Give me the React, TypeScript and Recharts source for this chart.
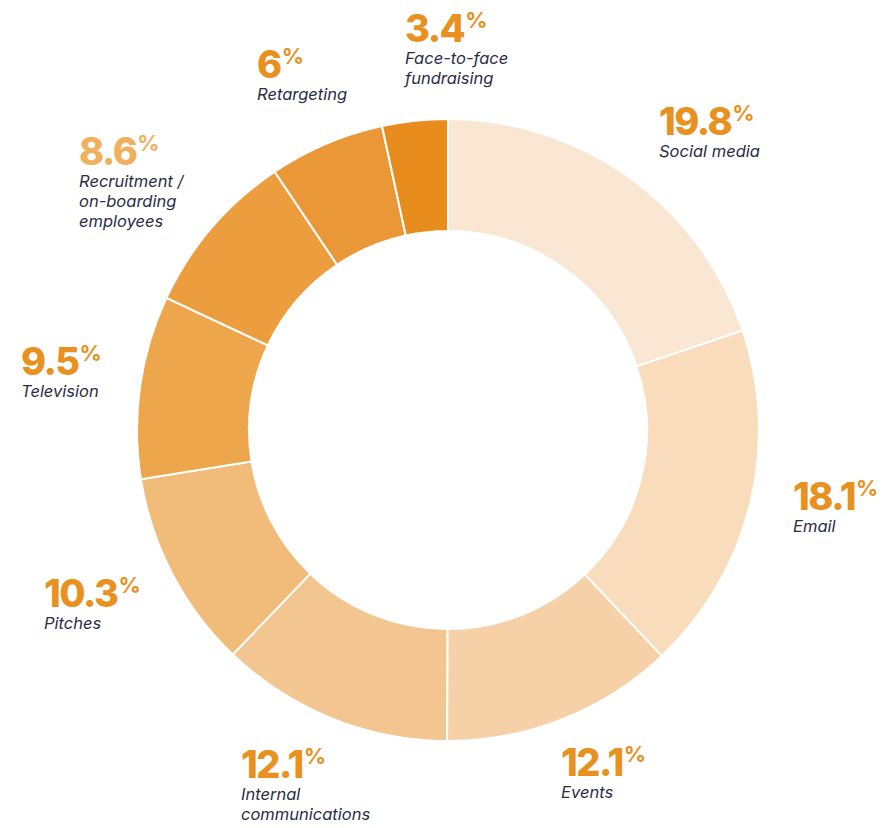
import * as React from "react";
import { PieChart, Pie, Cell } from "recharts";

// channel share, clockwise from 12 o'clock
const channels = [
  "Social media",
  "Email",
  "Events",
  "Internal communications",
  "Pitches",
  "Television",
  "Recruitment / on-boarding employees",
  "Retargeting",
  "Face-to-face fundraising",
];
const shares = [19.8, 18.1, 12.1, 12.1, 10.3, 9.5, 8.6, 6, 3.4];
const shareLabels = ["19.8", "18.1", "12.1", "12.1", "10.3", "9.5", "8.6", "6", "3.4"];
// wrapped caption lines per slice
const captionLines = [
  ["Social media"],
  ["Email"],
  ["Events"],
  ["Internal", "communications"],
  ["Pitches"],
  ["Television"],
  ["Recruitment /", "on-boarding", "employees"],
  ["Retargeting"],
  ["Face-to-face", "fundraising"],
];

const sliceColors = [
  "#FAE7D3",
  "#F8DCBB",
  "#F6D1A7",
  "#F3C590",
  "#F1BB79",
  "#EDA64B",
  "#EC9E3E",
  "#EA9837",
  "#E88C1E",
];

// where each label block sits (left x, baseline of the number)
const labelAnchor = [
  { x: 659, y: 135 },
  { x: 793, y: 510 },
  { x: 561, y: 776 },
  { x: 241, y: 778 },
  { x: 44, y: 607 },
  { x: 21, y: 375 },
  { x: 79, y: 165 },
  { x: 257, y: 78 },
  { x: 405, y: 42 },
];

const numberColor = "#E9911F";
const numberColorLight = "#F0B05E";
const captionColor = "#2A2D45";

const rows = channels.map((name, i) => ({ name, value: shares[i] }));

function SliceLabel(props: any) {
  const i = props.index;
  const a = labelAnchor[i];
  const lines = captionLines[i];
  const fill = i === 6 ? numberColorLight : numberColor;
  return (
    <g>
      <text
        x={a.x}
        y={a.y}
        fill={fill}
        fontFamily="Inter, 'Open Sans', sans-serif"
        fontWeight={800}
        fontSize={38}
        letterSpacing={-1.5}
      >
        {shareLabels[i]}
        <tspan fontSize={22} fontWeight={700} dy={-14} dx={1} letterSpacing={0}>
          %
        </tspan>
      </text>
      {lines.map((ln, k) => (
        <text
          key={k}
          x={a.x}
          y={a.y + 22 + k * 20}
          fill={captionColor}
          fontFamily="Inter, 'Open Sans', sans-serif"
          fontStyle="italic"
          fontSize={16.5}
        >
          {ln}
        </text>
      ))}
    </g>
  );
}

export default function App() {
  return (
    <div style={{ margin: -8, width: 884, height: 828, background: "#fff" }}>
      <PieChart width={884} height={828} margin={{ top: 0, right: 0, bottom: 0, left: 0 }}>
        <Pie
          data={rows}
          dataKey="value"
          nameKey="name"
          cx={448}
          cy={430}
          innerRadius={199}
          outerRadius={311}
          startAngle={90}
          endAngle={-270}
          stroke="#ffffff"
          strokeWidth={2}
          label={SliceLabel}
          labelLine={false}
          isAnimationActive={false}
        >
          {rows.map((r, i) => (
            <Cell key={r.name} fill={sliceColors[i]} />
          ))}
        </Pie>
      </PieChart>
    </div>
  );
}
